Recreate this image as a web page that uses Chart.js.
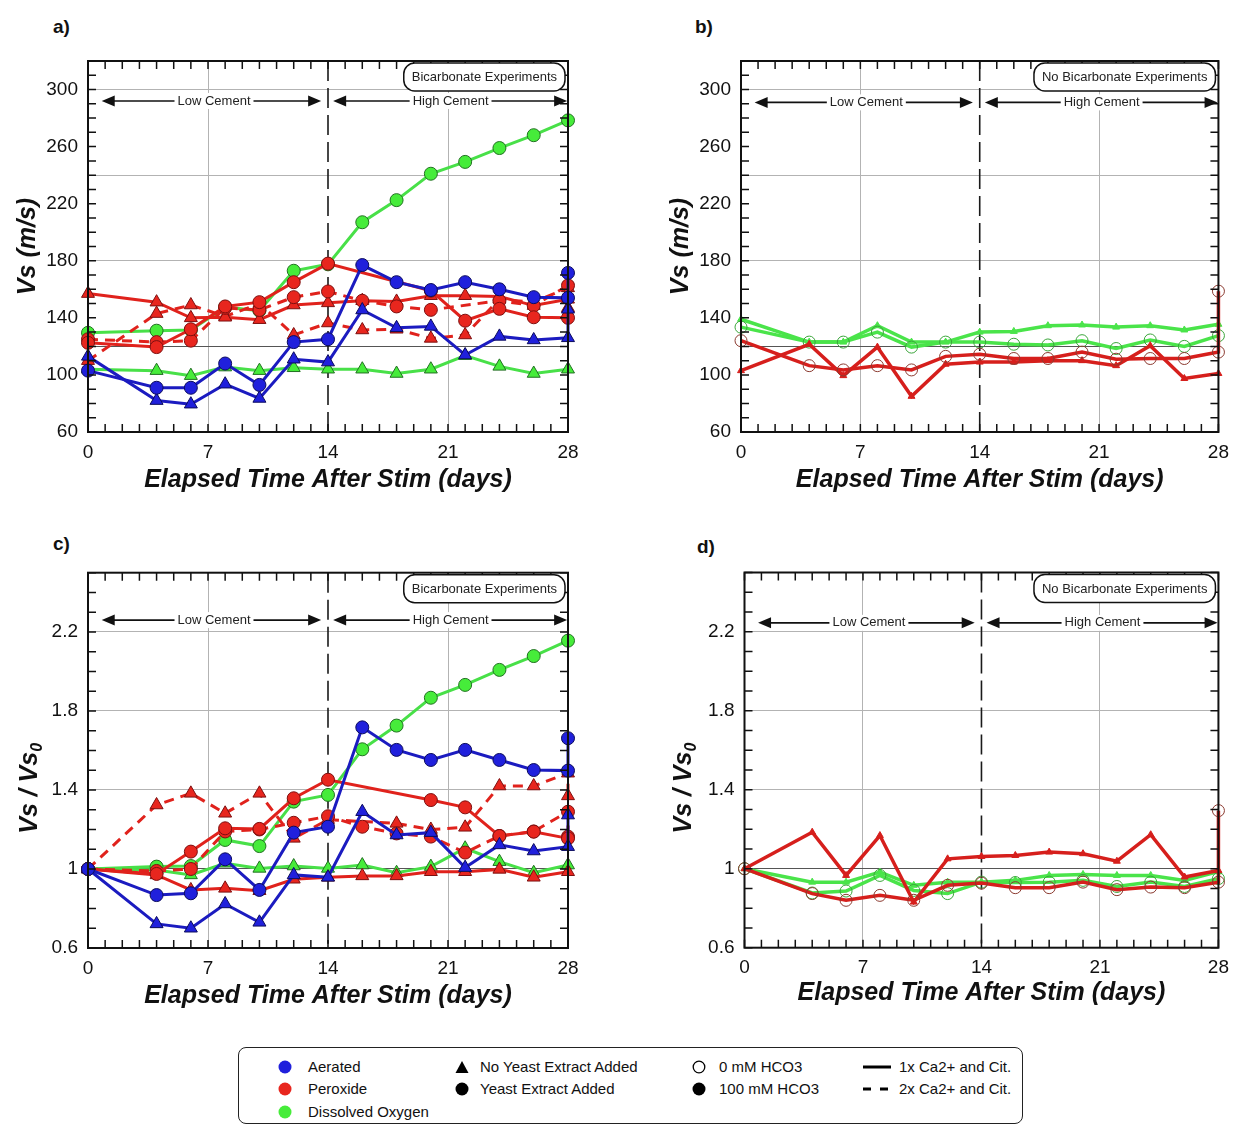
<!DOCTYPE html>
<html>
<head>
<meta charset="utf-8">
<script src="https://cdn.jsdelivr.net/npm/chart.js@4.4.1/dist/chart.umd.min.js"></script>
<style>
  html, body { margin: 0; background: #fff; }
  #page { position: relative; width: 1238px; height: 1126px; font-family: Arial, "Liberation Sans", sans-serif; color: #111; }
  canvas { position: absolute; }
  .tag { position: absolute; font-weight: bold; font-size: 19px; }
  #legend { position: absolute; left: 238px; top: 1047px; width: 783px; height: 75px; border: 1.5px solid #222; border-radius: 8px; }
  #legend svg { position: absolute; }
  #legend span { position: absolute; font-size: 15px; line-height: 18px; white-space: nowrap; }
</style>
</head>
<body>
<div id="page">
  <div class="tag" style="left:53px;top:16px">a)</div>
  <div class="tag" style="left:695px;top:16px">b)</div>
  <div class="tag" style="left:53px;top:533px">c)</div>
  <div class="tag" style="left:697px;top:536px">d)</div>

  <canvas id="pa" width="600" height="500" style="left:0;top:0"></canvas>
  <canvas id="pb" width="588" height="500" style="left:650px;top:0"></canvas>
  <canvas id="pc" width="600" height="500" style="left:0;top:520px"></canvas>
  <canvas id="pd" width="588" height="500" style="left:650px;top:520px"></canvas>

  <div id="legend">
    <svg style="left:39px;top:12px" width="14" height="14"><circle cx="7" cy="7" r="6.5" fill="#2020dc"/></svg>
    <span style="left:69px;top:10px">Aerated</span>
    <svg style="left:39px;top:34px" width="14" height="14"><circle cx="7" cy="7" r="6.5" fill="#e8261e"/></svg>
    <span style="left:69px;top:32px">Peroxide</span>
    <svg style="left:39px;top:57px" width="14" height="14"><circle cx="7" cy="7" r="6.5" fill="#46ec3a"/></svg>
    <span style="left:69px;top:55px">Dissolved Oxygen</span>

    <svg style="left:216px;top:12px" width="14" height="14"><polygon points="7,1 13.5,13 0.5,13" fill="#000"/></svg>
    <span style="left:241px;top:10px">No Yeast Extract Added</span>
    <svg style="left:216px;top:34px" width="14" height="14"><circle cx="7" cy="7" r="6.5" fill="#000"/></svg>
    <span style="left:241px;top:32px">Yeast Extract Added</span>

    <svg style="left:453px;top:12px" width="14" height="14"><circle cx="7" cy="7" r="5.8" fill="none" stroke="#000" stroke-width="1.3"/></svg>
    <span style="left:480px;top:10px">0 mM HCO3</span>
    <svg style="left:453px;top:34px" width="14" height="14"><circle cx="7" cy="7" r="6.5" fill="#000"/></svg>
    <span style="left:480px;top:32px">100 mM HCO3</span>

    <svg style="left:624px;top:12px" width="30" height="14"><line x1="0" y1="7" x2="28" y2="7" stroke="#000" stroke-width="3"/></svg>
    <span style="left:660px;top:10px">1x Ca2+ and Cit.</span>
    <svg style="left:624px;top:34px" width="30" height="14"><line x1="0" y1="7" x2="28" y2="7" stroke="#000" stroke-width="3" stroke-dasharray="8 9"/></svg>
    <span style="left:660px;top:32px">2x Ca2+ and Cit.</span>
  </div>
</div>

<script>
// sampling days after stimulation (day 28 appears twice: second reading)
const days = [0, 4, 6, 8, 10, 12, 14, 16, 18, 20, 22, 24, 26, 28, 28];

// tick marks and labelled ticks
const dayLabels = [0, 7, 14, 21, 28];
const vsLabels = [60, 100, 140, 180, 220, 260, 300];
const vsGrid = [120, 180, 240, 300];
const ratioLabels = [0.6, 1, 1.4, 1.8, 2.2];
const ratioGrid = [1, 1.4, 1.8, 2.2];

// a) Vs (m/s), bicarbonate experiments
const vsAeratedYeast    = [103, 91, 91, 108, 93, 123, 125, 177, 165, 159.5, 165, 160, 154.5, 154, 171.5];
const vsAeratedNoYeast  = [113, 82, 79.5, 93.5, 83.5, 111, 109, 145.5, 133, 134, 114, 127, 124.5, 126, 146];
const vsPeroxYeast1x    = [122.5, 119.5, 132, 148, 151, 165, 178, null, null, 159, 138, 146.3, 140.4, 140, null];
const vsPeroxYeast2x    = [125, 123, 124, 147, 145.5, 154.5, 158.5, 152, 148, 145.6, null, 152, 148.6, 162.7, null];
const vsPeroxNoYeast1x  = [157, 151, 140, 140.4, 138.7, 149, 150.5, 152, 151.5, 155.5, 155.5, 155, 148.6, 153, 147];
const vsPeroxNoYeast2x  = [110, 143, 149, 141, 150, 128, 136.4, 131.5, 132, 125.6, 128, 153, 151, 161, null];
const vsDoYeast         = [129.5, 131, 131.5, 147.5, 145, 173, 177.5, 207, 222.5, 241, 249.3, 259, 268, 278.4, null];
const vsDoNoYeast       = [104, 103, 99.5, 105.5, 103, 105, 104, 104, 101, 104, 113.5, 106, 101, 104, null];

// b) Vs (m/s), no bicarbonate
const vsNbDoNoYeast     = [139, 123, 123, 134.5, 123, 123, 130, 130.5, 134.5, 135, 133.5, 134.5, 131.5, 135.5, null];
const vsNbDoYeast       = [133.5, 123, 123, 130, 119.5, 123, 123, 121.5, 121, 124, 118.5, 124.5, 120, 127.5, null];
const vsNbPeroxNoYeast  = [103, 121.5, 99.5, 119.5, 85, 107.5, 109, 109, 110, 110, 106.5, 120.5, 97.5, 101, null];
const vsNbPeroxYeast    = [124, 106.5, 103.5, 106.5, 103.5, 113, 114.5, 111.5, 111.5, 116, 111, 111.5, 111.5, 116, 158.7];

// c) Vs / Vs0, bicarbonate experiments
const rAeratedYeast     = [1, 0.868, 0.877, 1.049, 0.894, 1.184, 1.214, 1.717, 1.603, 1.552, 1.603, 1.552, 1.501, 1.498, 1.662];
const rAeratedNoYeast   = [1, 0.722, 0.70, 0.823, 0.73, 0.97, 0.958, 1.29, 1.172, 1.184, 1.007, 1.122, 1.091, 1.113, 1.273];
const rPeroxYeast1x     = [1, 0.975, 1.088, 1.206, 1.203, 1.358, 1.452, null, null, 1.349, 1.312, 1.167, 1.189, 1.155, null];
const rPeroxYeast2x     = [1, 0.99, 1.0, 1.19, 1.2, 1.234, 1.267, 1.214, 1.18, 1.164, 1.083, 1.167, 1.19, 1.29, 1.164];
const rPeroxNoYeast1x   = [1, 0.97, 0.894, 0.902, 0.89, 0.948, 0.958, 0.965, 0.965, 0.986, 0.986, 0.998, 0.958, 0.986, null];
const rPeroxNoYeast2x   = [1, 1.324, 1.383, 1.282, 1.383, 1.155, 1.25, null, 1.231, 1.2, 1.211, 1.42, 1.42, 1.485, 1.37];
const rDoYeast          = [1, 1.012, 1.015, 1.147, 1.116, 1.341, 1.375, 1.606, 1.726, 1.867, 1.932, 2.008, 2.078, 2.156, null];
const rDoNoYeast        = [1, 0.995, 0.97, 1.029, 1.003, 1.015, 1.003, 1.02, 0.981, 1.012, 1.105, 1.037, 0.981, 1.02, null];

// d) Vs / Vs0, no bicarbonate
const rNbDoNoYeast      = [1, 0.932, 0.932, 0.983, 0.916, 0.932, 0.932, 0.941, 0.966, 0.971, 0.966, 0.966, 0.941, 0.985, null];
const rNbDoYeast        = [1, 0.877, 0.887, 0.966, 0.89, 0.874, 0.932, 0.93, 0.932, 0.941, 0.91, 0.932, 0.91, 0.95, null];
const rNbPeroxNoYeast   = [1, 1.185, 0.966, 1.168, 0.831, 1.05, 1.062, 1.067, 1.084, 1.076, 1.038, 1.172, 0.958, 0.991, null];
const rNbPeroxYeast     = [1, 0.874, 0.84, 0.865, 0.84, 0.916, 0.927, 0.904, 0.904, 0.932, 0.894, 0.907, 0.904, 0.932, 1.294];

const FONT = 'Arial, "Liberation Sans", sans-serif';
Chart.defaults.font.family = FONT;
Chart.defaults.color = '#111';

const BLUE  = { line: '#1b1bc0', fill: '#2020dc', edge: '#0b0b5c' };
const RED   = { line: '#e0221c', fill: '#e8261e', edge: '#7d0f0f' };
const GREEN = { line: '#48e048', fill: '#46ec3a', edge: '#227022' };
const DARKRED = { line: '#d61f1c', ring: '#8b3a30' };
const LIGHTGREEN = { line: '#4ae44a', ring: '#3aa43a' };

const round1 = v => Math.round(v * 100) / 100;
function range(from, to, step) {
  const out = [];
  for (let v = from; v <= to + step / 2; v += step) out.push(round1(v));
  return out;
}
const dayTicks = range(0, 28, 1);

const pts = values => days.map((d, i) => ({ x: d, y: values[i] }));

// filled markers (bicarbonate panels)
function filled(label, values, c, shape, dashed) {
  return {
    label, data: pts(values),
    borderColor: c.line, borderWidth: 3, borderDash: dashed ? [10, 7] : [],
    pointStyle: shape, pointRadius: shape === 'triangle' ? 7.5 : 6.5,
    pointBackgroundColor: c.fill, pointBorderColor: c.edge, pointBorderWidth: 1,
    spanGaps: true, tension: 0, clip: false
  };
}

// small triangles / hollow circles (no-bicarbonate panels)
function light(label, values, c, shape) {
  const tri = shape === 'triangle';
  return {
    label, data: pts(values),
    borderColor: c.line, borderWidth: 3.5,
    pointStyle: shape, pointRadius: tri ? 4 : 6,
    pointBackgroundColor: tri ? c.line : 'rgba(0,0,0,0)',
    pointBorderColor: tri ? c.line : c.ring, pointBorderWidth: 1,
    spanGaps: true, tension: 0, clip: false
  };
}

function drawSpan(ctx, x1, x2, y, text, mid) {
  ctx.lineWidth = 1.6;
  ctx.beginPath();
  ctx.moveTo(x1 + 6, y);
  ctx.lineTo(x2 - 6, y);
  ctx.stroke();
  ctx.beginPath();
  ctx.moveTo(x1, y); ctx.lineTo(x1 + 13, y - 5.5); ctx.lineTo(x1 + 13, y + 5.5); ctx.closePath();
  ctx.moveTo(x2, y); ctx.lineTo(x2 - 13, y - 5.5); ctx.lineTo(x2 - 13, y + 5.5); ctx.closePath();
  ctx.fill();
  const w = ctx.measureText(text).width;
  ctx.fillStyle = '#fff';
  ctx.fillRect(mid - w / 2 - 3, y - 8, w + 6, 16);
  ctx.fillStyle = '#222';
  ctx.fillText(text, mid, y);
}

// frame, inward ticks, cement phase arrows, experiment box and y title
const decor = {
  id: 'decor',
  beforeDatasetsDraw(chart, args, o) {
    const { ctx, chartArea: a } = chart;
    const px = chart.scales.x.getPixelForValue(o.divider);
    ctx.save();
    ctx.strokeStyle = '#1a1a1a';
    ctx.lineWidth = 1.6;
    ctx.setLineDash([20, 7]);
    ctx.beginPath();
    ctx.moveTo(px, a.top);
    ctx.lineTo(px, a.bottom);
    ctx.stroke();
    ctx.restore();
  },
  afterDraw(chart, args, o) {
    const { ctx, chartArea: a, scales: { x, y } } = chart;
    ctx.save();
    ctx.strokeStyle = '#111';
    ctx.fillStyle = '#111';
    ctx.lineWidth = 2;
    ctx.strokeRect(a.left, a.top, a.right - a.left, a.bottom - a.top);

    ctx.lineWidth = 1.5;
    ctx.beginPath();
    x.ticks.forEach(t => {
      const p = x.getPixelForValue(t.value);
      ctx.moveTo(p, a.bottom); ctx.lineTo(p, a.bottom - 8);
      ctx.moveTo(p, a.top); ctx.lineTo(p, a.top + 8);
    });
    y.ticks.forEach(t => {
      const p = y.getPixelForValue(t.value);
      ctx.moveTo(a.left, p); ctx.lineTo(a.left + 8, p);
      ctx.moveTo(a.right, p); ctx.lineTo(a.right - 8, p);
    });
    ctx.stroke();

    ctx.font = '13px ' + FONT;
    ctx.textAlign = 'center';
    ctx.textBaseline = 'middle';
    const ay = y.getPixelForValue(o.arrowAt);
    o.spans.forEach(s => {
      ctx.fillStyle = '#111';
      drawSpan(ctx, x.getPixelForValue(s.from), x.getPixelForValue(s.to), ay, s.text, x.getPixelForValue(s.mid));
    });

    const bw = ctx.measureText(o.box).width + 16, bh = 28;
    const bx = a.right - 3 - bw, by = a.top + 2;
    ctx.beginPath();
    ctx.roundRect(bx, by, bw, bh, 11);
    ctx.fillStyle = '#fff';
    ctx.fill();
    ctx.lineWidth = 1.5;
    ctx.stroke();
    ctx.fillStyle = '#222';
    ctx.fillText(o.box, bx + bw / 2, by + bh / 2 + 0.5);

    ctx.translate(o.titleX, (a.top + a.bottom) / 2 + (o.titleShift || 0));
    ctx.rotate(-Math.PI / 2);
    ctx.fillStyle = '#111';
    ctx.textAlign = 'left';
    const mainFont = 'italic bold 25px ' + FONT, subFont = 'italic bold 16px ' + FONT;
    ctx.font = subFont;
    const sw = o.sub ? ctx.measureText(o.sub).width : 0;
    ctx.font = mainFont;
    const mw = ctx.measureText(o.title).width;
    const start = -(mw + sw) / 2;
    ctx.fillText(o.title, start, 0);
    if (o.sub) {
      ctx.font = subFont;
      ctx.fillText(o.sub, start + mw, 8);
    }
    ctx.restore();
  }
};

const spansFor = () => [
  { from: 0.8, to: 13.6, mid: 7.35, text: 'Low Cement' },
  { from: 14.3, to: 27.95, mid: 21.15, text: 'High Cement' }
];

function xScale(height, titlePad) {
  return {
    type: 'linear', min: 0, max: 28,
    afterBuildTicks: s => { s.ticks = dayTicks.map(v => ({ value: v })); },
    afterFit: s => { s.height = height; },
    ticks: {
      autoSkip: false, maxRotation: 0, padding: 9,
      font: { size: 19 }, color: '#111',
      callback: v => dayLabels.includes(v) ? String(v) : ''
    },
    grid: {
      drawTicks: false, lineWidth: 1,
      color: c => (c.tick && (c.tick.value === 7 || c.tick.value === 21)) ? '#b3b3b3' : 'rgba(0,0,0,0)'
    },
    border: { display: false },
    title: {
      display: true, text: 'Elapsed Time After Stim (days)', color: '#111',
      font: { size: 25, style: 'italic', weight: 'bold' },
      padding: { top: 0, bottom: titlePad }
    }
  };
}

function yScale(min, max, step, labels, grid, dark, width) {
  const ticks = range(min, max, step);
  return {
    type: 'linear', min, max,
    afterBuildTicks: s => { s.ticks = ticks.map(v => ({ value: v })); },
    afterFit: s => { s.width = width; },
    ticks: {
      autoSkip: false, padding: 10,
      font: { size: 19 }, color: '#111',
      callback: v => labels.includes(round1(v)) ? String(round1(v)) : ''
    },
    grid: {
      drawTicks: false, lineWidth: 1,
      color: c => {
        const v = c.tick ? round1(c.tick.value) : null;
        if (!grid.includes(v)) return 'rgba(0,0,0,0)';
        return v === dark ? '#555' : '#b3b3b3';
      }
    },
    border: { display: false }
  };
}

function panel(id, datasets, opts) {
  new Chart(document.getElementById(id), {
    type: 'line',
    data: { datasets },
    options: {
      responsive: false, animation: false, devicePixelRatio: 1,
      layout: { padding: { top: opts.top, right: opts.right, left: 0, bottom: 0 } },
      scales: { x: opts.x, y: opts.y },
      plugins: {
        legend: { display: false },
        tooltip: { enabled: false },
        decor: {
          divider: 14, arrowAt: opts.arrowAt, spans: spansFor(), box: opts.box,
          title: opts.title, sub: opts.sub, titleX: opts.titleX, titleShift: opts.titleShift
        }
      }
    },
    plugins: [decor]
  });
}

panel('pa', [
  filled('Aerated, yeast', vsAeratedYeast, BLUE, 'circle'),
  filled('Aerated, no yeast', vsAeratedNoYeast, BLUE, 'triangle'),
  filled('Peroxide, yeast, 1x', vsPeroxYeast1x, RED, 'circle'),
  filled('Peroxide, yeast, 2x', vsPeroxYeast2x, RED, 'circle', true),
  filled('Peroxide, no yeast, 1x', vsPeroxNoYeast1x, RED, 'triangle'),
  filled('Peroxide, no yeast, 2x', vsPeroxNoYeast2x, RED, 'triangle', true),
  filled('Dissolved oxygen, yeast', vsDoYeast, GREEN, 'circle'),
  filled('Dissolved oxygen, no yeast', vsDoNoYeast, GREEN, 'triangle')
], {
  top: 61, right: 32,
  x: xScale(68, 5), y: yScale(60, 320, 10, vsLabels, vsGrid, 120, 88),
  arrowAt: 292, box: 'Bicarbonate Experiments', title: 'Vs (m/s)', titleX: 28
});

panel('pb', [
  light('Peroxide, yeast', vsNbPeroxYeast, DARKRED, 'circle'),
  light('Peroxide, no yeast', vsNbPeroxNoYeast, DARKRED, 'triangle'),
  light('Dissolved oxygen, yeast', vsNbDoYeast, LIGHTGREEN, 'circle'),
  light('Dissolved oxygen, no yeast', vsNbDoNoYeast, LIGHTGREEN, 'triangle')
], {
  top: 61, right: 18,
  x: xScale(68, 5), y: yScale(60, 320, 10, vsLabels, vsGrid, 120, 91),
  arrowAt: 291, box: 'No Bicarbonate Experiments', title: 'Vs (m/s)', titleX: 31
});

panel('pc', [
  filled('Aerated, yeast', rAeratedYeast, BLUE, 'circle'),
  filled('Aerated, no yeast', rAeratedNoYeast, BLUE, 'triangle'),
  filled('Peroxide, yeast, 1x', rPeroxYeast1x, RED, 'circle'),
  filled('Peroxide, yeast, 2x', rPeroxYeast2x, RED, 'circle', true),
  filled('Peroxide, no yeast, 1x', rPeroxNoYeast1x, RED, 'triangle'),
  filled('Peroxide, no yeast, 2x', rPeroxNoYeast2x, RED, 'triangle', true),
  filled('Dissolved oxygen, yeast', rDoYeast, GREEN, 'circle'),
  filled('Dissolved oxygen, no yeast', rDoNoYeast, GREEN, 'triangle')
], {
  top: 52.7, right: 32,
  x: xScale(72, 9), y: yScale(0.6, 2.5, 0.1, ratioLabels, ratioGrid, 1, 88),
  arrowAt: 2.26, box: 'Bicarbonate Experiments', title: 'Vs / Vs', sub: '0', titleX: 30, titleShift: 28
});

panel('pd', [
  light('Peroxide, yeast', rNbPeroxYeast, DARKRED, 'circle'),
  light('Peroxide, no yeast', rNbPeroxNoYeast, DARKRED, 'triangle'),
  light('Dissolved oxygen, yeast', rNbDoYeast, LIGHTGREEN, 'circle'),
  light('Dissolved oxygen, no yeast', rNbDoNoYeast, LIGHTGREEN, 'triangle')
], {
  top: 52.5, right: 16,
  x: xScale(72.3, 12), y: yScale(0.6, 2.5, 0.1, ratioLabels, ratioGrid, 1, 94.5),
  arrowAt: 2.245, box: 'No Bicarbonate Experiments', title: 'Vs / Vs', sub: '0', titleX: 34, titleShift: 28
});
</script>
</body>
</html>
